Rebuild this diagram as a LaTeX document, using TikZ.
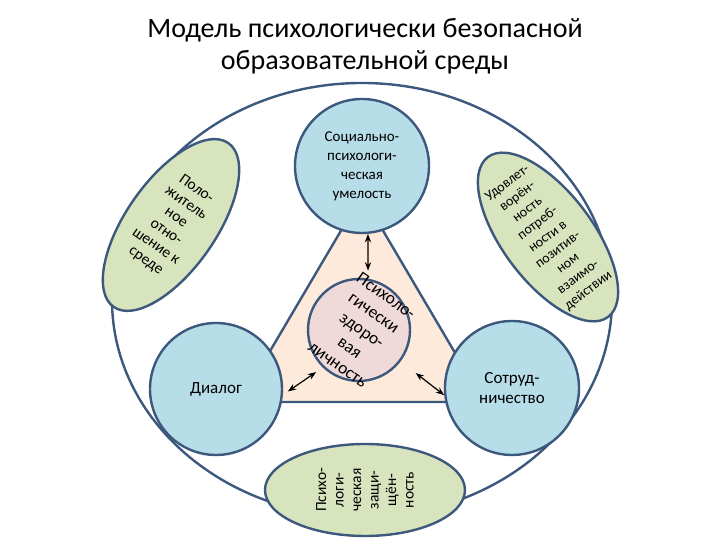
\documentclass[tikz,border=0pt]{standalone}
\usepackage{fontspec}
\setmainfont{Carlito}
\usetikzlibrary{shapes.geometric, arrows.meta}
\definecolor{rimblue}{RGB}{60, 88, 125}
\definecolor{circblue}{RGB}{183, 221, 232}
\definecolor{ovalgreen}{RGB}{215, 228, 189}
\definecolor{tripeach}{RGB}{253, 234, 218}
\definecolor{corepink}{RGB}{240, 218, 217}
\tikzset{
  rim/.style      = {draw=rimblue, line width=2.4pt},
  blob/.style     = {circle, rim, fill=circblue, inner sep=0pt, align=center, font=\fontsize{15}{19}\selectfont},
  oval/.style     = {ellipse, rim, fill=ovalgreen, inner sep=0pt, minimum width=200pt, minimum height=90pt},
  ovaltxt/.style  = {align=center, inner sep=0pt, font=\fontsize{15.5}{17.5}\selectfont},
  coretxt/.style  = {align=center, inner sep=0pt, font=\fontsize{17.5}{21}\selectfont},
  link/.style     = {Stealth-Stealth, line width=1.2pt, black},
}
\begin{document}
\begin{tikzpicture}[x=100pt, y=100pt]
  \useasboundingbox (0,0) rectangle (7.2,5.4);
  \node[align=center, font=\fontsize{28}{32}\selectfont] (title) at (3.65,4.94)
    {Модель психологически безопасной\\образовательной среды};

  % outer ring and inner triangle
  \draw[rim] (3.62,2.40) ellipse [x radius=2.5, y radius=2.17];
  \draw[rim, fill=tripeach, line join=round] (3.62,3.45) -- (2.40,1.38) -- (4.84,1.38) -- cycle;

  % green ovals
  \node[oval, rotate=55] (pos) at (1.71,3.15) {};
  \node[oval, rotate=-53] (sat) at (5.48,3.03) {};
  \node[oval, minimum height=92pt] (safe) at (3.65,0.50) {};

  % blue circles and the core
  \node[blob, minimum size=134pt] (soc) at (3.62,3.74) {Социально-\\психологи-\\ческая\\умелость};
  \node[blob, minimum size=132pt, font=\fontsize{17}{20}\selectfont] (dial) at (2.16,1.51) {Диалог};
  \node[blob, minimum size=134pt, font=\fontsize{17}{20}\selectfont] (coop) at (5.12,1.52) {Сотруд-\\ничество};
  \node[circle, rim, fill=corepink, minimum size=102pt] (core) at (3.59,2.10) {};

  \draw[link, shorten >=8pt] (soc.-85) -- (core.80);
  \draw[link, shorten <=8pt, shorten >=6pt] (core.226) -- (dial.-5);
  \draw[link, shorten <=19pt] (core.-37) -- (coop.186);

  % rotated labels
  \node[coretxt, rotate=-35] (corelbl) at (3.62,2.10) {Психоло-\\гически\\здоро-\\вая\\личность};
  \node[ovaltxt, rotate=-35] (poslbl) at (pos) {Поло-\\житель\\ное\\отно-\\шение к\\среде};
  \node[ovaltxt, rotate=37, font=\fontsize{14}{16.8}\selectfont] (satlbl) at (sat)
    {Удовлет-\\ворён-\\ность\\потреб-\\ности в\\позитив-\\ном\\взаимо-\\действии};
  \node[ovaltxt, rotate=90] (safelbl) at (safe) {Психо-\\логи-\\ческая\\защи-\\щён-\\ность};
\end{tikzpicture}
\end{document}
